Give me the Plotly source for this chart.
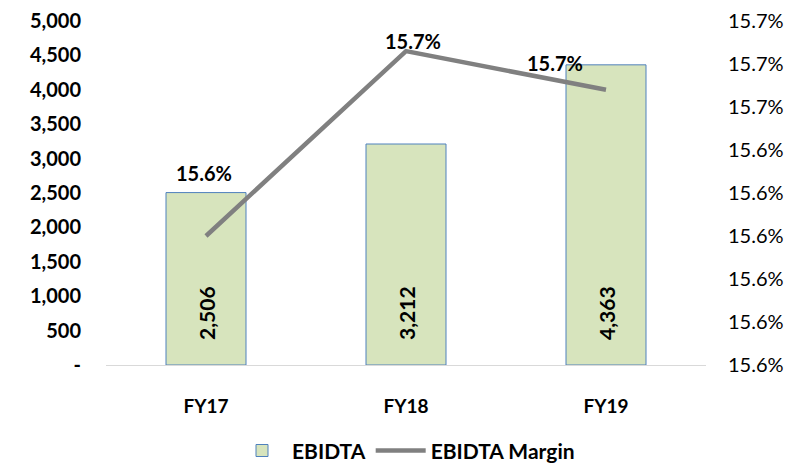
import plotly.graph_objects as go

categories = ["FY17", "FY18", "FY19"]
ebitda = [2506, 3212, 4363]
margin_pct = [15.630, 15.673, 15.664]
margin_labels = ["15.6%", "15.7%", "15.7%"]
left_tickvals = [0, 500, 1000, 1500, 2000, 2500, 3000, 3500, 4000, 4500, 5000]
left_ticktext = ["-", "500", "1,000", "1,500", "2,000", "2,500", "3,000", "3,500", "4,000", "4,500", "5,000"]
right_tickvals = [15.60, 15.61, 15.62, 15.63, 15.64, 15.65, 15.66, 15.67, 15.68]
right_ticktext = ["15.6%", "15.6%", "15.6%", "15.6%", "15.6%", "15.6%", "15.7%", "15.7%", "15.7%"]
# label offsets (px) for margin labels: (xshift, yshift)
label_shifts = [(-2, 63), (7, 10), (-51, 27)]

FONT = "Lato"

fig = go.Figure()
fig.add_trace(go.Bar(
    x=categories, y=ebitda, name="EBIDTA",
    marker=dict(color="#D7E4BD", line=dict(color="#4F81BD", width=1)),
    width=0.4, yaxis="y",
))
fig.add_trace(go.Scatter(
    x=categories, y=margin_pct, name="EBIDTA Margin", mode="lines",
    line=dict(color="#808080", width=4.5), yaxis="y2",
))

annotations = []
for c, v in zip(categories, ebitda):
    annotations.append(dict(
        x=c, y=0, xref="x", yref="y", text=f"<b>{v:,}</b>", textangle=-90,
        showarrow=False, xanchor="center", yanchor="middle", yshift=52,
        font=dict(family=FONT, size=21, color="black"),
    ))
for c, m, lab, (dx, dy) in zip(categories, margin_pct, margin_labels, label_shifts):
    annotations.append(dict(
        x=c, y=m, xref="x", yref="y2", text=f"<b>{lab}</b>", showarrow=False,
        xanchor="center", yanchor="middle", xshift=dx, yshift=dy,
        font=dict(family=FONT, size=20, color="black"),
    ))

fig.update_layout(
    width=800, height=465,
    margin=dict(l=98, r=102, t=13, b=108, autoexpand=False),
    paper_bgcolor="white", plot_bgcolor="white",
    font=dict(family=FONT, color="black"),
    showlegend=True,
    legend=dict(orientation="h", x=0.5, xanchor="center", y=-0.19, yanchor="top",
                font=dict(family=FONT, size=21, weight="bold"), traceorder="normal",
                itemwidth=50),
    xaxis=dict(showgrid=False, showline=True, linecolor="#D9D9D9", linewidth=1,
               ticks="", tickfont=dict(family=FONT, size=19, weight="bold"),
               ticklabelstandoff=24, ticklabeloverflow="allow"),
    yaxis=dict(range=[0, 5000], tickvals=left_tickvals, ticktext=left_ticktext,
               showgrid=False, showline=False, zeroline=False, ticks="",
               tickfont=dict(family=FONT, size=20, weight="bold"),
               ticklabelstandoff=24, ticklabeloverflow="allow"),
    yaxis2=dict(range=[15.60, 15.68], tickvals=right_tickvals, ticktext=right_ticktext,
                overlaying="y", side="right", showgrid=False, showline=False,
                zeroline=False, ticks="", tickfont=dict(family=FONT, size=20),
                ticklabelstandoff=21, ticklabeloverflow="allow"),
    annotations=annotations,
)

fig.write_html("out.html")
